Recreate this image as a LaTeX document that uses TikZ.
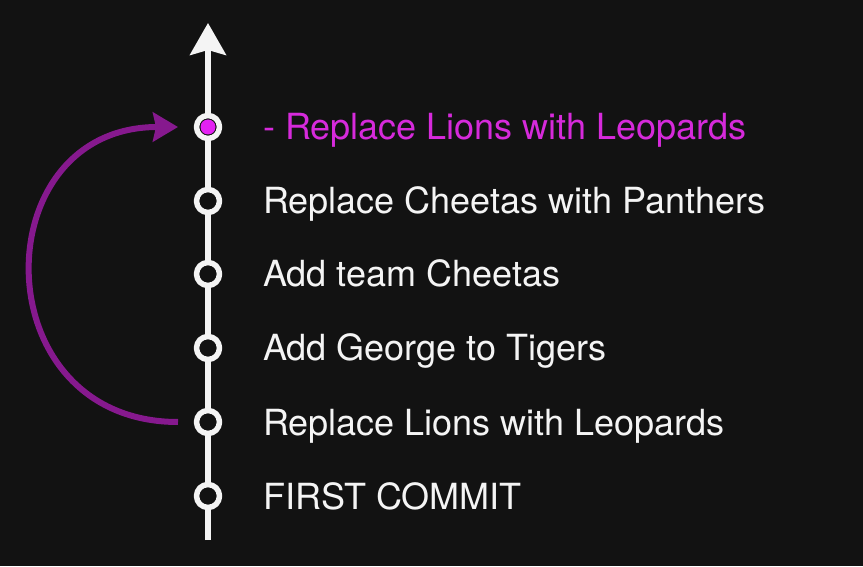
\documentclass[tikz,border=0pt]{standalone}
\usepackage{fontspec}
\setmainfont{TeX Gyre Heros}
\usetikzlibrary{arrows.meta}
\definecolor{gitBg}{HTML}{121212}
\definecolor{gitWhite}{HTML}{F4F4F4}
\definecolor{gitMagenta}{HTML}{D62ADB}
\definecolor{gitDot}{HTML}{E321F2}
\definecolor{gitPurple}{HTML}{86198E}
\tikzset{
 history/.style={line cap=round,line join=round},
 trunk/.style={draw=gitWhite,line width=5.5pt,line cap=butt,-{Stealth[length=32pt,width=36pt,inset=5pt]}},
 commit/.style={circle,draw=gitWhite,fill=gitBg,line width=5.5pt,inner sep=0pt,minimum size=23pt},
 headcommit/.style={commit},
 headdot/.style={circle,fill=gitDot,inner sep=0pt,minimum size=15pt},
 msg/.style={font=\fontsize{36}{40}\selectfont,text=gitWhite,anchor=base west,inner sep=0pt},
 headmsg/.style={msg,text=gitMagenta},
 jump/.style={draw=gitPurple,line width=6pt,line cap=butt,-{Stealth[length=25pt,width=29pt,inset=3pt]}}
}

\begin{document}
\begin{tikzpicture}[history,x=1pt,y=1pt]
 \fill[gitBg] (0,0) rectangle (863,566);
 \useasboundingbox (0,0) rectangle (863,566);
 \coordinate (base) at (208,26); \coordinate (tip) at (208,543);
 \draw[trunk] (base)--(tip);
 % commits, newest on top
 \node[headcommit] (c1) at (208,439) {};
 \node[headdot] at (c1) {};
 \node[headmsg] (t1) at (263,426) {- Replace Lions with Leopards};
 \foreach \i/\y/\txt in {2/365/Replace Cheetas with Panthers,
   3/292/Add team Cheetas,4/218/Add George to Tigers,
   5/144/Replace Lions with Leopards,6/70/FIRST COMMIT}{
  \node[commit] (c\i) at (208,\y) {};
  \node[msg] (t\i) at (263,\y-13) {\txt};
 }
 \coordinate (from) at (178,144); \coordinate (to) at (178,439);
 \draw[jump] (from) to[out=180,in=180,looseness=1.7] (to);
\end{tikzpicture}
\end{document}
